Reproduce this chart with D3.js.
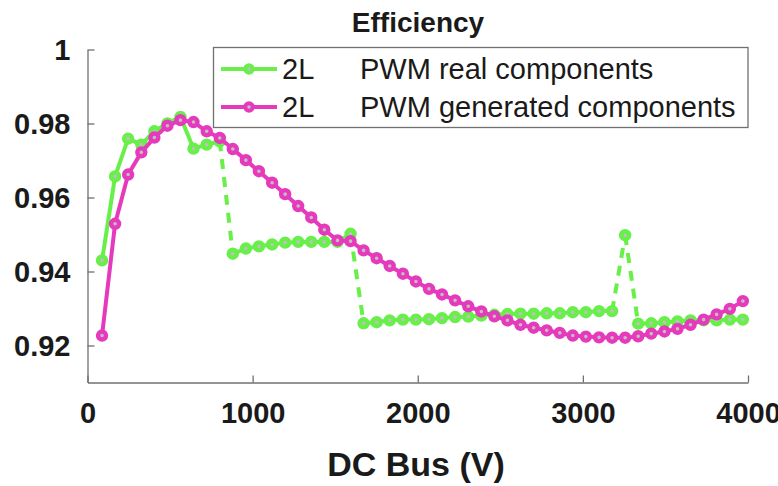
<!DOCTYPE html>
<html><head><meta charset="utf-8">
<script src="https://cdn.jsdelivr.net/npm/d3@7"></script>
<style>body{margin:0;background:#fff}svg{display:block}</style>
</head><body>
<svg id="c" width="778" height="486"></svg>
<script>
const busVoltage = [88,167,246,326,405,484,563,642,722,801,880,959,1038,1118,1197,1276,1355,1434,1514,1593,1672,1751,1830,1910,1989,2068,2147,2226,2306,2385,2464,2543,2622,2702,2781,2860,2939,3018,3098,3177,3256,3335,3414,3494,3573,3652,3731,3810,3890,3969];
const realEff = [0.9430,0.9657,0.9759,0.9743,0.9779,0.9800,0.9818,0.9732,0.9743,0.9752,
 0.9448,0.9462,0.9468,0.9473,0.9478,0.9480,0.9480,0.9480,0.9480,0.9502,
 0.9260,0.9263,0.9268,0.9270,0.9270,0.9271,0.9274,0.9277,0.9278,0.9281,
 0.9283,0.9285,0.9286,0.9286,0.9287,0.9287,0.9290,0.9290,0.9293,0.9293,
 0.9498,0.9259,0.9260,0.9263,0.9265,0.9268,0.9268,0.9268,0.9270,0.9270];
const genEff = [0.9227,0.9529,0.9662,0.9722,0.9762,0.9794,0.9809,0.9804,0.9779,0.9761,
 0.9731,0.9701,0.9671,0.9640,0.9609,0.9577,0.9546,0.9513,0.9484,0.9482,
 0.9457,0.9436,0.9415,0.9394,0.9373,0.9353,0.9338,0.9322,0.9306,0.9292,
 0.9279,0.9268,0.9256,0.9248,0.9241,0.9234,0.9227,0.9224,0.9222,0.9221,
 0.9221,0.9225,0.9232,0.9238,0.9245,0.9256,0.9270,0.9284,0.9299,0.9320];
// indices where the "real" curve switches component set (drawn dashed)
const realDashedSteps = [9,19,39,40];
const xTicks = [0,1000,2000,3000,4000];
const yTicks = [0.92,0.94,0.96,0.98,1];
const seriesNames = [["2L","PWM real components"],["2L","PWM generated components"]];
const title = "Efficiency", xTitle = "DC Bus (V)";

const GREEN = "#68ef4a", PINK = "#e63abd";
const svg = d3.select("#c");
const x = d3.scaleLinear().domain([0,4000]).range([87.5,748]);
const y = d3.scaleLinear().domain([0.91,1.0]).range([382.5,49.5]);
const font = "'Liberation Sans', Arial, sans-serif";

// axes
const gx = svg.append("g").attr("transform",`translate(0,${y(0.91)})`)
  .call(d3.axisBottom(x).tickValues(xTicks).tickSizeInner(-7).tickSizeOuter(0).tickPadding(20).tickFormat(d3.format("d")));
const gy = svg.append("g").attr("transform",`translate(${x(0)},0)`)
  .call(d3.axisLeft(y).tickValues(yTicks).tickSizeInner(-7).tickSizeOuter(0).tickPadding(17).tickFormat(d=>d===1?"1":d3.format(".2f")(d)));
[gx,gy].forEach(g=>{
  g.select(".domain").attr("stroke","#707070").attr("stroke-width",1.3);
  g.selectAll(".tick line").attr("stroke","#707070").attr("stroke-width",1.3);
  g.selectAll("text").attr("fill","#1a1a1a").style("font-family",font).style("font-weight","bold").style("font-size","29px");
});
gx.selectAll(".tick text").attr("dy","0.71em");
gy.selectAll(".tick text").attr("dy","0.36em");

// titles
svg.append("text").attr("x",418).attr("y",32).attr("text-anchor","middle")
  .style("font-family",font).style("font-weight","bold").style("font-size","28px").attr("fill","#1a1a1a").text(title);
svg.append("text").attr("x",416).attr("y",476).attr("text-anchor","middle")
  .style("font-family",font).style("font-weight","bold").style("font-size","34px").attr("fill","#1a1a1a").text(xTitle);

// lines
const pts = (vals)=>busVoltage.map((v,i)=>[x(v),y(vals[i])]);
const line = d3.line();
const gp = pts(realEff), pp = pts(genEff);
// real: solid segments, dashed transitions
const segs=[]; let cur=[gp[0]];
for(let i=1;i<gp.length;i++){
  if(realDashedSteps.includes(i-1)){segs.push({p:cur,d:false}); segs.push({p:[gp[i-1],gp[i]],d:true}); cur=[gp[i]];}
  else cur.push(gp[i]);
}
segs.push({p:cur,d:false});
segs.forEach(s=>{
  svg.append("path").attr("d",line(s.p)).attr("fill","none").attr("stroke",GREEN)
    .attr("stroke-width",4).attr("stroke-linejoin","round")
    .attr("stroke-dasharray",s.d?"10,8":null);
});
const drawMarkers=(p,col)=>svg.append("g").selectAll("circle").data(p).join("circle")
  .attr("cx",d=>d[0]).attr("cy",d=>d[1]).attr("r",4).attr("fill","#c0c0c0").attr("stroke",col).attr("stroke-width",4.4);
drawMarkers(gp,GREEN);
svg.append("path").attr("d",line(pp)).attr("fill","none").attr("stroke",PINK).attr("stroke-width",4).attr("stroke-linejoin","round");
drawMarkers(pp,PINK);

// legend
const lg = svg.append("g");
lg.append("rect").attr("x",213.5).attr("y",47.5).attr("width",534.5).attr("height",80)
  .attr("fill","#fff").attr("stroke","#707070").attr("stroke-width",1.3);
[GREEN,PINK].forEach((col,i)=>{
  const yy = 69 + i*38;
  lg.append("line").attr("x1",221).attr("x2",277).attr("y1",yy).attr("y2",yy).attr("stroke",col).attr("stroke-width",4);
  lg.append("circle").attr("cx",249).attr("cy",yy).attr("r",3.8).attr("fill","#c0c0c0").attr("stroke",col).attr("stroke-width",4);
  lg.append("text").attr("x",282).attr("y",yy).attr("dy","0.36em").style("font-family",font).style("font-size","29px").attr("fill","#1a1a1a").text(seriesNames[i][0]);
  lg.append("text").attr("x",360).attr("y",yy).attr("dy","0.36em").style("font-family",font).style("font-size","29px").attr("fill","#1a1a1a").text(seriesNames[i][1]);
});
</script>
</body></html>
